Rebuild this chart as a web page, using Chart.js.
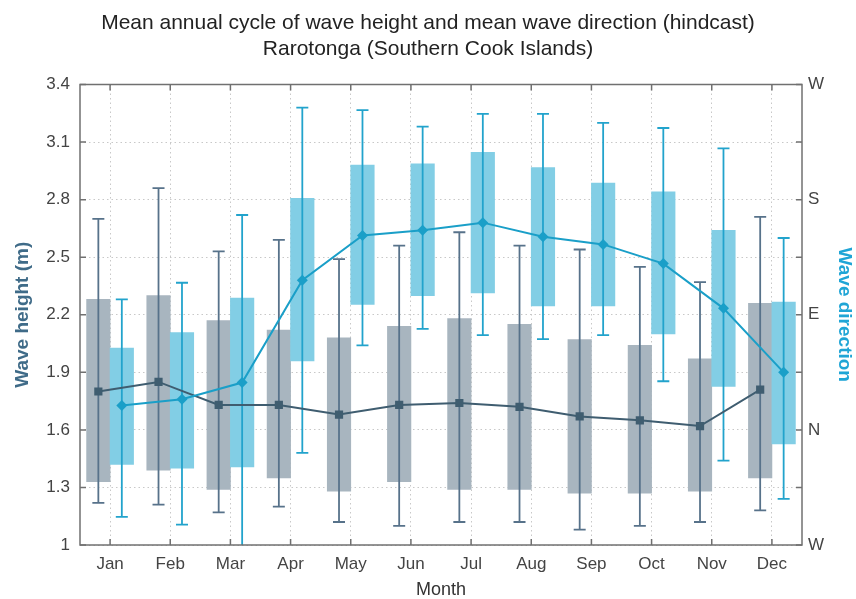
<!DOCTYPE html>
<html><head><meta charset="utf-8">
<script src="https://cdn.jsdelivr.net/npm/chart.js@4"></script>
<style>html,body{margin:0;padding:0;background:#fff}#wrap{width:856px;height:599px}</style>
</head><body><div id="wrap"><canvas id="c" width="856" height="599"></canvas></div>
<script>
const months = ['Jan','Feb','Mar','Apr','May','Jun','Jul','Aug','Sep','Oct','Nov','Dec'];

// Wave height (m)
const hsMean      = [1.80,1.85,1.73,1.73,1.68,1.73,1.74,1.72,1.67,1.65,1.62,1.81];
const hsBoxLow    = [1.33,1.39,1.29,1.35,1.28,1.33,1.29,1.29,1.27,1.27,1.28,1.35];
const hsBoxHigh   = [2.28,2.30,2.17,2.12,2.08,2.14,2.18,2.15,2.07,2.04,1.97,2.26];
const hsWhiskLow  = [1.22,1.21,1.17,1.20,1.12,1.10,1.12,1.12,1.08,1.10,1.12,1.18];
const hsWhiskHigh = [2.70,2.86,2.53,2.59,2.49,2.56,2.63,2.56,2.54,2.45,2.37,2.71];

// Mean wave direction (degrees, N = 0, E = 90, S = 180, W = 270 / -90)
const dirMean      = [19,24,37,117,152,156,162,151,145,130,95,45];
const dirBoxLow    = [-27,-30,-29,54,98,105,107,97,97,75,34,-11];
const dirBoxHigh   = [64,76,103,181,207,208,217,205,193,186,156,100];
const dirWhiskLow  = [-68,-74,-100,-18,66,79,74,71,74,38,-24,-54];
const dirWhiskHigh = [102,115,168,252,250,237,247,247,240,236,220,150];

const heightTicks = [1,1.3,1.6,1.9,2.2,2.5,2.8,3.1,3.4];
const dirTickLabels = {'-90':'W','0':'N','90':'E','180':'S','270':'W'};

const FONT = '"Liberation Sans", Arial, Helvetica, sans-serif';
Chart.defaults.font.family = FONT;

const whiskerPlugin = {
  id: 'whiskers',
  afterDatasetDraw(chart, args) {
    const ds = chart.data.datasets[args.index];
    if (!ds.whiskers) return;
    const ys = chart.scales[ds.yAxisID];
    const ctx = chart.ctx, a = chart.chartArea;
    ctx.save();
    ctx.beginPath(); ctx.rect(a.left, a.top, a.right - a.left, a.bottom - a.top); ctx.clip();
    ctx.strokeStyle = ds.whiskerColor; ctx.lineWidth = 1.8;
    args.meta.data.forEach((bar, i) => {
      const x = bar.x;
      const lo = ys.getPixelForValue(ds.whiskers.low[i]);
      const hi = ys.getPixelForValue(ds.whiskers.high[i]);
      ctx.beginPath();
      ctx.moveTo(x, lo); ctx.lineTo(x, hi);
      ctx.moveTo(x - 6, lo); ctx.lineTo(x + 6, lo);
      ctx.moveTo(x - 6, hi); ctx.lineTo(x + 6, hi);
      ctx.stroke();
    });
    ctx.restore();
  }
};

const framePlugin = {
  id: 'frame',
  afterDraw(chart) {
    const {ctx, chartArea: a, scales} = chart;
    ctx.save();
    ctx.strokeStyle = '#707070'; ctx.lineWidth = 1.5;
    ctx.strokeRect(a.left, a.top, a.right - a.left, a.bottom - a.top);
    ctx.beginPath();
    scales.x.ticks.forEach((t, i) => {
      const x = scales.x.getPixelForTick(i);
      ctx.moveTo(x, a.bottom); ctx.lineTo(x, a.bottom - 6);
      ctx.moveTo(x, a.top); ctx.lineTo(x, a.top + 6);
    });
    scales.y.ticks.forEach((t, i) => {
      const y = scales.y.getPixelForTick(i);
      ctx.moveTo(a.left, y); ctx.lineTo(a.left + 6, y);
    });
    scales.y2.ticks.forEach((t, i) => {
      const y = scales.y2.getPixelForTick(i);
      ctx.moveTo(a.right, y); ctx.lineTo(a.right - 6, y);
    });
    ctx.stroke();
    ctx.restore();
  }
};

// grey series sits left of each month tick, cyan series right of it (fraction of a month)
const OFF = 0.195;
const BAR_PX = 23.5;
new Chart(document.getElementById('c'), {
  type: 'bar',
  data: {
    labels: months,
    datasets: [
      {
        type: 'bar', label: 'Wave height box',
        data: months.map((m, i) => ({x: i + 1 - OFF, y: [hsBoxLow[i], hsBoxHigh[i]]})),
        backgroundColor: '#a8b5bf', borderWidth: 0, borderSkipped: false,
        xAxisID: 'xl', yAxisID: 'y', order: 3, grouped: false, barThickness: BAR_PX,
        whiskers: {low: hsWhiskLow, high: hsWhiskHigh}, whiskerColor: '#57728a'
      },
      {
        type: 'bar', label: 'Wave direction box',
        data: months.map((m, i) => ({x: i + 1 + OFF, y: [dirBoxLow[i], dirBoxHigh[i]]})),
        backgroundColor: '#82cee5', borderWidth: 0, borderSkipped: false,
        xAxisID: 'xl', yAxisID: 'y2', order: 2, grouped: false, barThickness: BAR_PX,
        whiskers: {low: dirWhiskLow, high: dirWhiskHigh}, whiskerColor: '#22a3cc'
      },
      {
        type: 'line', label: 'Mean wave height',
        data: months.map((m, i) => ({x: i + 1 - OFF, y: hsMean[i]})),
        xAxisID: 'xl', yAxisID: 'y', order: 1,
        borderColor: '#3f5d70', backgroundColor: '#3f5d70', borderWidth: 2,
        pointStyle: 'rect', pointRadius: 5.8, pointBorderWidth: 0, tension: 0
      },
      {
        type: 'line', label: 'Mean wave direction',
        data: months.map((m, i) => ({x: i + 1 + OFF, y: dirMean[i]})),
        xAxisID: 'xl', yAxisID: 'y2', order: 0,
        borderColor: '#1a9fc8', backgroundColor: '#1a9fc8', borderWidth: 2,
        pointStyle: 'rectRot', pointRadius: 5.5, pointBorderWidth: 0, tension: 0
      }
    ]
  },
  options: {
    responsive: false, animation: false, devicePixelRatio: 1,
    layout: {padding: 0},
    plugins: {
      legend: {display: false},
      tooltip: {enabled: false},
      title: {
        display: true,
        text: ['Mean annual cycle of wave height and mean wave direction (hindcast)', 'Rarotonga (Southern Cook Islands)'],
        color: '#222', font: {size: 21, weight: 'normal', lineHeight: 1.25},
        padding: {top: 10, bottom: 22}
      }
    },
    scales: {
      x: {
        type: 'category', position: 'bottom', offset: true,
        grid: {offset: false, color: '#c8c8c8', lineWidth: 1, drawTicks: false},
        border: {display: false, dash: [1.5, 3]},
        ticks: {color: '#444', font: {size: 17}, padding: 9, maxRotation: 0},
        title: {display: true, text: 'Month', color: '#333', font: {size: 18}, padding: {top: 0, bottom: -2}},
        afterFit(s) { s.height = 54; }
      },
      xl: {type: 'linear', display: false, offset: false, min: 0.5, max: 12.5,
        grid: {display: false, offset: false}},
      y: {
        type: 'linear', position: 'left', min: 1, max: 3.4,
        afterBuildTicks(s) { s.ticks = heightTicks.map(v => ({value: v})); },
        ticks: {color: '#444', font: {size: 17}, padding: 10,
          callback: v => String(Number(v.toFixed(1)))},
        grid: {color: '#c8c8c8', lineWidth: 1, drawTicks: false},
        border: {display: false, dash: [1.5, 3]},
        title: {display: true, text: 'Wave height (m)', color: '#3f6b88',
          font: {size: 19, weight: 'bold'}, padding: {top: 11, bottom: 0}},
        afterFit(s) { s.width = 80; }
      },
      y2: {
        type: 'linear', position: 'right', min: -90, max: 270,
        ticks: {stepSize: 45, color: '#444', font: {size: 17}, padding: 6,
          callback: v => dirTickLabels[String(v)] || ''},
        grid: {display: false, drawTicks: false},
        border: {display: false},
        title: {display: true, text: 'Wave direction', color: '#1fa5d6',
          font: {size: 19, weight: 'bold'}, padding: {top: 0, bottom: 0}},
        afterFit(s) { s.width = 54; }
      }
    }
  },
  plugins: [whiskerPlugin, framePlugin]
});
</script></body></html>
